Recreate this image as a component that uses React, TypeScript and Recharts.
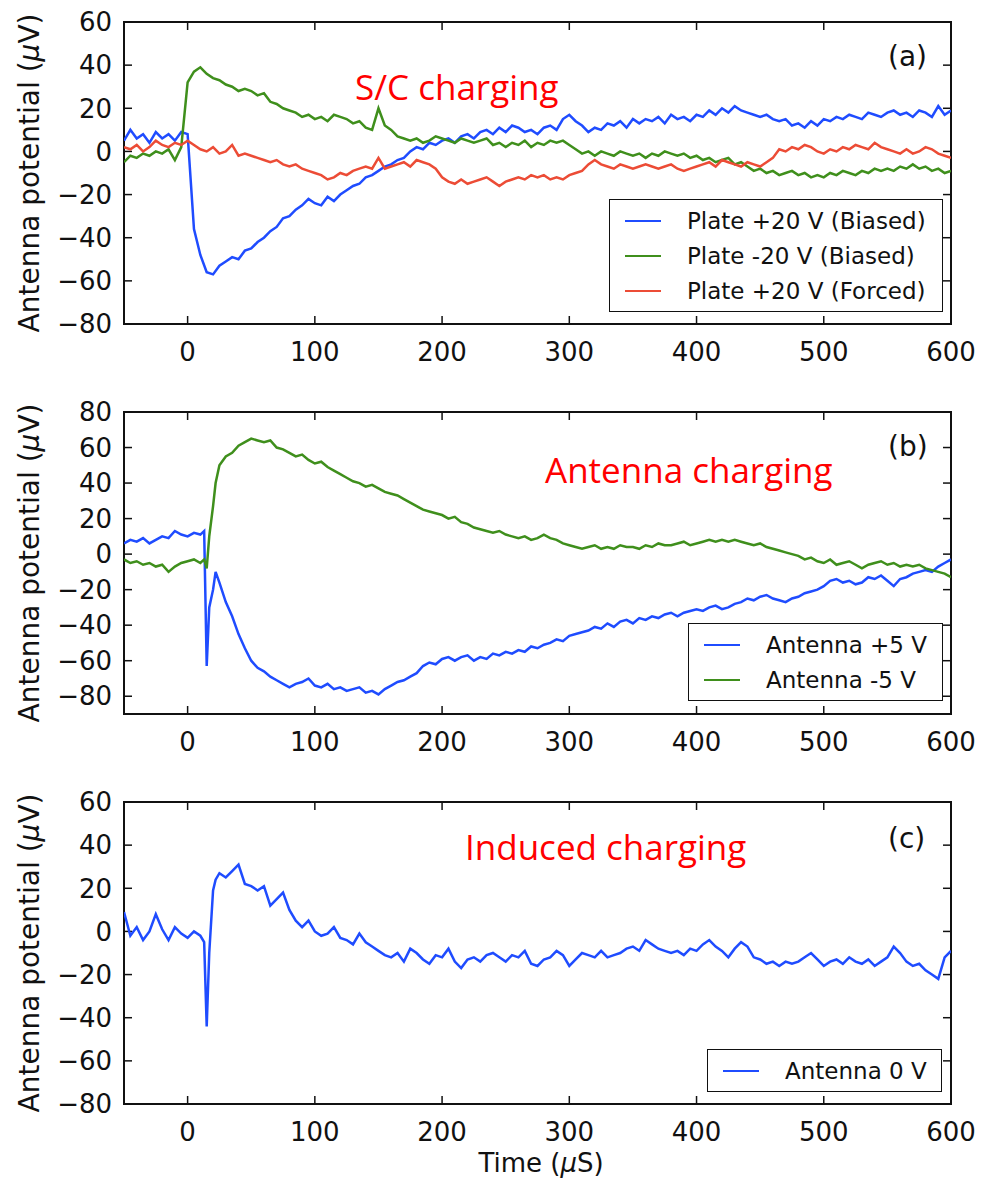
import React from 'react';
import * as R from 'recharts';
import { LineChart, Line, XAxis, YAxis, Legend } from 'recharts';

// time (µs) for panel (a)
const timeA = [
  -50, -45, -40, -35, -30, -25, -20, -15, -10, -5,
  0, 5, 10, 15, 20, 25, 30, 35, 40, 45,
  50, 55, 60, 65, 70, 75, 80, 85, 90, 95,
  100, 105, 110, 115, 120, 125, 130, 135, 140, 145,
  150, 155, 160, 165, 170, 175, 180, 185, 190, 195,
  200, 205, 210, 215, 220, 225, 230, 235, 240, 245,
  250, 255, 260, 265, 270, 275, 280, 285, 290, 295,
  300, 305, 310, 315, 320, 325, 330, 335, 340, 345,
  350, 355, 360, 365, 370, 375, 380, 385, 390, 395,
  400, 405, 410, 415, 420, 425, 430, 435, 440, 445,
  450, 455, 460, 465, 470, 475, 480, 485, 490, 495,
  500, 505, 510, 515, 520, 525, 530, 535, 540, 545,
  550, 555, 560, 565, 570, 575, 580, 585, 590, 595,
  600,
];

// panel (a) series, µV
const plateBiasedPos = [
  5, 10, 6, 8, 4, 9, 6, 8, 5, 9,
  8, -36, -48, -56, -57, -53, -51, -49, -50, -46,
  -45, -42, -40, -37, -35, -31, -30, -27, -25, -22,
  -24, -25, -21, -23, -20, -18, -16, -15, -12, -11,
  -9, -7, -6, -4, -3, 0, 2, 1, 4, 3,
  5, 6, 4, 7, 8, 6, 9, 10, 8, 11,
  9, 12, 11, 9, 10, 8, 11, 12, 10, 15,
  17, 14, 12, 9, 11, 10, 13, 12, 14, 11,
  15, 13, 15, 14, 16, 13, 17, 15, 16, 14,
  17, 16, 19, 17, 20, 18, 21, 19, 18, 17,
  16, 17, 15, 14, 15, 12, 13, 11, 14, 12,
  15, 14, 16, 15, 17, 16, 15, 18, 17, 16,
  18, 19, 17, 18, 16, 19, 18, 16, 21, 17,
  19,
];

const plateBiasedNeg = [
  -5, -2, -3, -1, -2, 0, -1, 1, -4, 2,
  32, 37, 39, 36, 34, 33, 31, 30, 28, 29,
  28, 26, 27, 23, 22, 20, 19, 18, 16, 17,
  15, 16, 14, 17, 16, 15, 13, 14, 11, 10,
  20, 12, 10, 7, 6, 5, 6, 4, 5, 7,
  6, 5, 4, 6, 5, 4, 5, 6, 3, 4,
  2, 4, 3, 5, 2, 4, 3, 5, 4, 5,
  3, 1, -1, 0, -2, 0, -1, -2, 0, -1,
  -2, -1, -3, -1, -2, 0, -1, -2, -1, -3,
  -2, -4, -3, -5, -4, -3, -6, -5, -7, -9,
  -8, -10, -9, -11, -10, -9, -11, -10, -12, -11,
  -12, -10, -11, -9, -10, -11, -9, -10, -8, -9,
  -8, -9, -7, -8, -6, -8, -7, -9, -8, -10,
  -9,
];

const plateForcedPos = [
  2, 1, 3, 0, 2, 5, 3, 2, 4, 3,
  5, 3, 1, 0, 2, -1, 0, 3, -2, -1,
  -2, -3, -4, -5, -4, -6, -7, -6, -8, -9,
  -10, -11, -13, -12, -10, -11, -9, -8, -7, -8,
  -3, -8, -7, -6, -5, -7, -4, -5, -6, -8,
  -12, -14, -15, -13, -15, -14, -13, -12, -14, -16,
  -14, -13, -12, -13, -11, -12, -11, -13, -12, -13,
  -11, -10, -9, -6, -4, -6, -7, -8, -6, -7,
  -8, -7, -6, -7, -8, -7, -6, -8, -9, -8,
  -7, -6, -5, -7, -4, -5, -6, -7, -5, -6,
  -7, -5, -3, 1, 0, 2, 1, 3, 2, 0,
  -1, 1, 0, 2, 1, 3, 2, 1, 4, 2,
  1, 0, -1, 1, -1, 0, 2, 1, -1, -2,
  -3,
];

// time (µs) for panels (b) and (c), denser round the onset
const timeBC = [
  -50, -45, -40, -35, -30, -25, -20, -15, -10, -5,
  0, 5, 10, 13, 15, 17, 20, 22, 25,
  30, 35, 40, 45, 50, 55, 60, 65, 70, 75,
  80, 85, 90, 95, 100, 105, 110, 115, 120, 125,
  130, 135, 140, 145, 150, 155, 160, 165, 170, 175,
  180, 185, 190, 195, 200, 205, 210, 215, 220, 225,
  230, 235, 240, 245, 250, 255, 260, 265, 270, 275,
  280, 285, 290, 295, 300, 305, 310, 315, 320, 325,
  330, 335, 340, 345, 350, 355, 360, 365, 370, 375,
  380, 385, 390, 395, 400, 405, 410, 415, 420, 425,
  430, 435, 440, 445, 450, 455, 460, 465, 470, 475,
  480, 485, 490, 495, 500, 505, 510, 515, 520, 525,
  530, 535, 540, 545, 550, 555, 560, 565, 570, 575,
  580, 585, 590, 595, 600,
];

// panel (b)
const antennaPos = [
  6, 8, 7, 9, 6, 8, 10, 9, 13, 11,
  10, 12, 11, 13, -63, -30, -20, -10, -16,
  -27, -35, -45, -53, -60, -64, -66, -69, -71, -73,
  -75, -73, -72, -70, -74, -75, -73, -76, -75, -77,
  -76, -75, -78, -77, -79, -76, -74, -72, -71, -69,
  -67, -63, -61, -62, -59, -58, -60, -58, -57, -60,
  -58, -59, -56, -57, -55, -56, -54, -55, -52, -53,
  -51, -50, -48, -49, -46, -45, -44, -43, -41, -42,
  -39, -41, -38, -37, -39, -36, -37, -35, -36, -34,
  -33, -35, -33, -32, -31, -32, -30, -29, -31, -30,
  -28, -27, -25, -26, -24, -23, -25, -26, -27, -25,
  -24, -22, -21, -20, -18, -15, -14, -16, -15, -17,
  -16, -13, -14, -12, -15, -18, -14, -13, -11, -10,
  -9, -10, -7, -5, -3,
];

const antennaNeg = [
  -3, -5, -4, -6, -5, -7, -6, -10, -7, -5,
  -4, -3, -5, -3, -8, 10, 27, 40, 50,
  55, 57, 61, 63, 65, 64, 63, 64, 60, 59,
  57, 55, 56, 53, 51, 52, 49, 47, 45, 43,
  41, 40, 38, 39, 37, 35, 34, 33, 31, 29,
  27, 25, 24, 23, 22, 20, 21, 18, 17, 15,
  14, 13, 12, 13, 11, 10, 9, 10, 8, 9,
  11, 9, 8, 6, 5, 4, 3, 4, 5, 3,
  4, 3, 5, 4, 4, 3, 5, 4, 6, 5,
  5, 6, 7, 5, 6, 7, 8, 7, 8, 7,
  8, 7, 6, 5, 6, 4, 3, 2, 1, 0,
  -1, -3, -2, -4, -5, -3, -6, -5, -4, -6,
  -8, -6, -5, -4, -6, -5, -7, -6, -7, -6,
  -8, -9, -10, -11, -13,
];

// panel (c)
const antennaZero = [
  9, -2, 2, -4, 0, 8, 1, -4, 2, -1,
  -3, 0, -2, -5, -44, -10, 19, 24, 27,
  25, 28, 31, 22, 21, 19, 21, 12, 15, 18,
  10, 5, 2, 5, 0, -2, -1, 2, -3, -4,
  -6, -1, -5, -7, -9, -11, -12, -10, -14, -8,
  -10, -13, -15, -11, -12, -8, -14, -17, -13, -12,
  -14, -11, -10, -12, -14, -11, -12, -9, -15, -16,
  -13, -12, -9, -11, -16, -13, -10, -11, -12, -9,
  -12, -11, -10, -8, -7, -9, -4, -6, -8, -9,
  -10, -9, -11, -8, -9, -6, -4, -7, -9, -12,
  -8, -5, -7, -12, -13, -15, -14, -16, -14, -15,
  -14, -12, -10, -13, -16, -14, -13, -15, -12, -14,
  -15, -13, -16, -14, -12, -7, -10, -14, -16, -15,
  -18, -20, -22, -12, -9,
];

const namesA = ['Plate +20 V (Biased)', 'Plate -20 V (Biased)', 'Plate +20 V (Forced)'];
const namesB = ['Antenna +5 V', 'Antenna -5 V'];
const namesC = ['Antenna 0 V'];

const xTicks = [0, 100, 200, 300, 400, 500, 600];
const yTicksAC = [-80, -60, -40, -20, 0, 20, 40, 60];
const yTicksB = [-80, -60, -40, -20, 0, 20, 40, 60, 80];

const BLUE = '#1f4cff';
const GREEN = '#3f8f1c';
const RED = '#ec4c36';
const INK = '#111';
const MONO = 'DejaVu Sans';
const X0 = -50;
const X1 = 600;

const dataA = timeA.map((t, i) => ({ t, pos: plateBiasedPos[i], neg: plateBiasedNeg[i], forced: plateForcedPos[i] }));
const dataB = timeBC.map((t, i) => ({ t, pos: antennaPos[i], neg: antennaNeg[i] }));
const dataC = timeBC.map((t, i) => ({ t, zero: antennaZero[i] }));

const fmt = (v: number) => (v < 0 ? `\u2212${Math.abs(v)}` : `${v}`);
const tickStyle = { fontSize: 26, fontFamily: MONO, fill: INK };

// legend keeps the plotting order, not alphabetical
const legendBox = (width: number, order: string[]) => (props: any) => {
  const items = order.map((n) => (props.payload || []).find((p: any) => p.value === n)).filter(Boolean);
  return (
    <div style={{ width, boxSizing: 'border-box', border: `1.5px solid ${INK}`, background: '#fff', padding: '3px 0', fontFamily: MONO, fontSize: 23 }}>
      {items.map((p: any) => (
        <div key={p.value} style={{ display: 'flex', alignItems: 'center', height: 35 }}>
          <span style={{ display: 'inline-block', width: 36, height: 2, marginLeft: 15, background: p.color }} />
          <span style={{ marginLeft: 26, color: INK, whiteSpace: 'nowrap' }}>{p.value}</span>
        </div>
      ))}
    </div>
  );
};

const margin = { top: 22, right: 37, bottom: 0, left: 50 };
const Y_AXIS_W = 74;
const usePlotAreaSafe: () => any = (R as any).usePlotArea || (() => null);

// matplotlib-style box with inward ticks on all four sides
const Frame = ({ y0, y1, yTicks, h }: { y0: number; y1: number; yTicks: number[]; h: number }) => {
  const pa = usePlotAreaSafe() || {
    x: margin.left + Y_AXIS_W, y: margin.top, width: 988 - margin.left - Y_AXIS_W - margin.right, height: h,
  };
  const sx = (v: number) => pa.x + ((v - X0) / (X1 - X0)) * pa.width;
  const sy = (v: number) => pa.y + ((y1 - v) / (y1 - y0)) * pa.height;
  const L = 8;
  const bottom = pa.y + pa.height;
  const right = pa.x + pa.width;
  return (
    <g stroke={INK} fill="none">
      <rect x={pa.x} y={pa.y} width={pa.width} height={pa.height} strokeWidth={2} />
      <g strokeWidth={1.5}>
        {xTicks.map((t) => (
          <g key={`x${t}`}>
            <line x1={sx(t)} x2={sx(t)} y1={bottom} y2={bottom - L} />
            <line x1={sx(t)} x2={sx(t)} y1={pa.y} y2={pa.y + L} />
          </g>
        ))}
        {yTicks.map((t) => (
          <g key={`y${t}`}>
            <line x1={pa.x} x2={pa.x + L} y1={sy(t)} y2={sy(t)} />
            <line x1={right} x2={right - L} y1={sy(t)} y2={sy(t)} />
          </g>
        ))}
      </g>
    </g>
  );
};

const axes = (y0: number, y1: number, yTicks: number[], bottomHeight: number) => [
  <XAxis key="xb" xAxisId="b" dataKey="t" type="number" domain={[X0, X1]} ticks={xTicks} interval={0}
    allowDataOverflow height={bottomHeight} tickLine={false} axisLine={false} tickMargin={13} tickFormatter={fmt} tick={tickStyle} />,
  <YAxis key="yl" yAxisId="l" type="number" domain={[y0, y1]} ticks={yTicks} interval={0} allowDataOverflow
    width={Y_AXIS_W} tickLine={false} axisLine={false} tickMargin={6} tickFormatter={fmt} tick={tickStyle} />,
];

const YLabel = () => (
  <text transform="translate(39,173) rotate(-90)" textAnchor="middle" fontSize={28} fontFamily={MONO} fill={INK}>
    Antenna potential (<tspan fontStyle="italic">μ</tspan>V)
  </text>
);

const note = (x: number, y: number, s: string) => (
  <text x={x} y={y} fontSize={35} fontFamily="Open Sans" fill="#ff0000">{s}</text>
);
const tag = (y: number, s: string) => (
  <text x={888} y={y} fontSize={28} fontFamily={MONO} fill={INK}>{s}</text>
);

const lineProps = { type: 'linear' as const, dot: false, strokeWidth: 2.5, isAnimationActive: false, xAxisId: 'b', yAxisId: 'l' };

const App: React.FC = () => (
  <div style={{ position: 'absolute', left: 0, top: 0, width: 988, height: 1182, background: '#fff', overflow: 'hidden' }}>
    <div style={{ position: 'absolute', left: 0, top: 0 }}>
      <LineChart width={988} height={390} data={dataA} margin={margin}>
        {axes(-80, 60, yTicksAC, 66)}
        <Line {...lineProps} dataKey="pos" name={namesA[0]} stroke={BLUE} />
        <Line {...lineProps} dataKey="neg" name={namesA[1]} stroke={GREEN} />
        <Line {...lineProps} dataKey="forced" name={namesA[2]} stroke={RED} />
        <Frame y0={-80} y1={60} yTicks={yTicksAC} h={302} />
        <Legend layout="vertical" align="center" verticalAlign="middle" content={legendBox(334, namesA)}
          wrapperStyle={{ left: 609, top: 199, width: 334 }} />
        <YLabel />
        {note(355, 100, 'S/C charging')}
        {tag(66, '(a)')}
      </LineChart>
    </div>
    <div style={{ position: 'absolute', left: 0, top: 390 }}>
      <LineChart width={988} height={390} data={dataB} margin={margin}>
        {axes(-90, 80, yTicksB, 66)}
        <Line {...lineProps} dataKey="pos" name={namesB[0]} stroke={BLUE} />
        <Line {...lineProps} dataKey="neg" name={namesB[1]} stroke={GREEN} />
        <Frame y0={-90} y1={80} yTicks={yTicksB} h={302} />
        <Legend layout="vertical" align="center" verticalAlign="middle" content={legendBox(255, namesB)}
          wrapperStyle={{ left: 688, top: 233, width: 255 }} />
        <YLabel />
        {note(545, 93, 'Antenna charging')}
        {tag(66, '(b)')}
      </LineChart>
    </div>
    <div style={{ position: 'absolute', left: 0, top: 780 }}>
      <LineChart width={988} height={402} data={dataC} margin={margin}>
        {axes(-80, 60, yTicksAC, 78)}
        <Line {...lineProps} dataKey="zero" name={namesC[0]} stroke={BLUE} />
        <Frame y0={-80} y1={60} yTicks={yTicksAC} h={302} />
        <Legend layout="vertical" align="center" verticalAlign="middle" content={legendBox(235, namesC)}
          wrapperStyle={{ left: 707, top: 269, width: 235 }} />
        <YLabel />
        {note(465, 80, 'Induced charging')}
        {tag(68, '(c)')}
        <text x={541} y={392} textAnchor="middle" fontSize={26} fontFamily={MONO} fill={INK}>
          Time (<tspan fontStyle="italic">μ</tspan>S)
        </text>
      </LineChart>
    </div>
  </div>
);

export default App;
